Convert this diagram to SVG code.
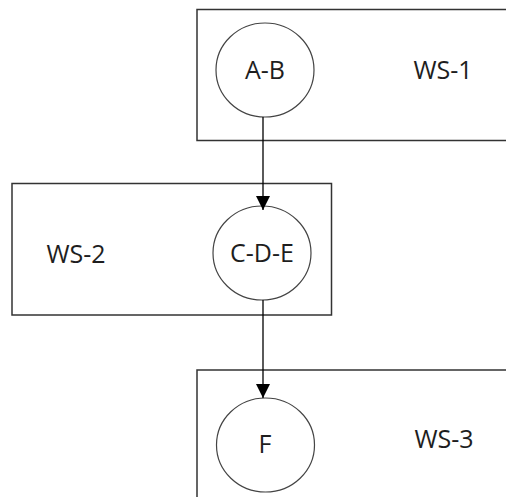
<svg xmlns="http://www.w3.org/2000/svg" width="506" height="497" viewBox="0 0 506 497">
<defs>
<style>
.box{fill:none;stroke:#333;stroke-width:1.5}
.node{fill:#fff;stroke:#444;stroke-width:1.2}
.lbl{font-family:"Open Sans","Liberation Sans",sans-serif;font-size:25px;fill:#1e1e1e;text-anchor:middle}
.edge{stroke:#000;stroke-width:1.3;fill:none}
</style>
<marker id="arr" viewBox="0 0 14 14" markerWidth="14" markerHeight="14" refX="14" refY="7" orient="auto" markerUnits="userSpaceOnUse">
<path d="M0,0 L14,7 L0,14 Z" fill="#000"/>
</marker>
</defs>
<rect width="506" height="497" fill="#fff"/>
<g id="ws1">
<rect class="box" x="197" y="9.5" width="330" height="131"/>
<text class="lbl" x="443" y="79">WS-1</text>
</g>
<g id="ws2">
<rect class="box" x="12" y="183.5" width="319.5" height="131.5"/>
<text class="lbl" x="76" y="263">WS-2</text>
</g>
<g id="ws3">
<rect class="box" x="197" y="370" width="330" height="160"/>
<text class="lbl" x="444" y="448">WS-3</text>
</g>
<g id="ab">
<ellipse class="node" cx="265" cy="70" rx="49" ry="47"/>
<text class="lbl" x="265" y="79">A-B</text>
</g>
<g id="cde">
<ellipse class="node" cx="262" cy="253" rx="49" ry="47"/>
<text class="lbl" x="262" y="262">C-D-E</text>
</g>
<g id="f">
<ellipse class="node" cx="265.5" cy="445" rx="49" ry="47"/>
<text class="lbl" x="265" y="453">F</text>
</g>
<g id="connectors">
<line class="edge" x1="263" y1="117" x2="263" y2="210" marker-end="url(#arr)"/>
<line class="edge" x1="263" y1="300" x2="263" y2="398" marker-end="url(#arr)"/>
</g>
</svg>
